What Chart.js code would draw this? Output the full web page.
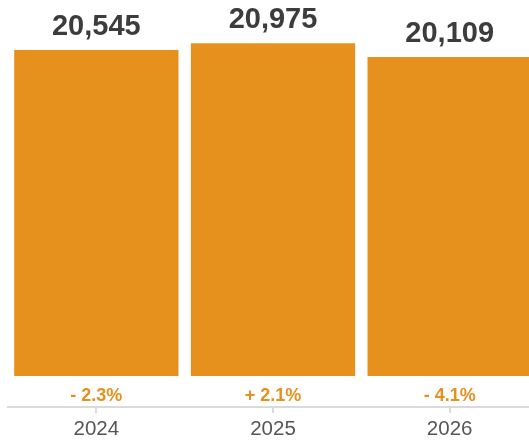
<!DOCTYPE html>
<html lang="en">
<head>
    <meta charset="utf-8">
    <script src="https://cdn.jsdelivr.net/npm/chart.js@4.4.0/dist/chart.umd.min.js"></script>
    <style>
        html, body { margin: 0; padding: 0; overflow: hidden; background: #fff; }
        .wrap { width: 538px; height: 442px; }
    </style>
</head>
<body>
<div class="wrap">
    <canvas id="myChart" width="538" height="442"></canvas>
</div>
<script>
    // data
    const years = ['2024', '2025', '2026'];
    const values = [20545, 20975, 20109];
    const changes = ['- 2.3%', '+ 2.1%', '- 4.1%'];

    const FONT = '"Liberation Sans", Arial, Helvetica, sans-serif';
    const ORANGE = '#e6901e';

    // value above each bar
    const valueLabels = {
        id: 'valueLabels',
        afterDatasetsDraw(chart) {
            const ctx = chart.ctx;
            const meta = chart.getDatasetMeta(0);
            ctx.save();
            ctx.font = 'bold 29px ' + FONT;
            ctx.fillStyle = '#3c3c3c';
            ctx.textAlign = 'center';
            ctx.textBaseline = 'alphabetic';
            meta.data.forEach(function (bar, i) {
                ctx.fillText(values[i].toLocaleString('en-US'), bar.x, bar.y - 15);
            });
            ctx.restore();
        }
    };

    const ctx = document.getElementById('myChart').getContext('2d');
    const myChart = new Chart(ctx, {
        type: 'bar',
        data: {
            labels: years,
            datasets: [{
                data: values,
                backgroundColor: ORANGE,
                borderWidth: 0,
                barPercentage: 0.93,
                categoryPercentage: 1
            }]
        },
        options: {
            responsive: false,
            animation: false,
            layout: { padding: { left: 8, right: 0, top: 0, bottom: 0 } },
            plugins: {
                legend: { display: false },
                tooltip: { enabled: false }
            },
            scales: {
                y: {
                    display: false,
                    min: 0,
                    max: 23700
                },
                x: {
                    position: 'bottom',
                    grid: { display: false, drawTicks: false },
                    border: { display: false },
                    ticks: {
                        padding: 9,
                        color: ORANGE,
                        font: { family: FONT, size: 18, weight: 'bold' },
                        callback: function (v, i) { return changes[i]; }
                    },
                    afterFit: function (s) { s.height = 31; }
                },
                x2: {
                    type: 'category',
                    position: 'bottom',
                    labels: years,
                    offset: true,
                    border: { display: true, color: '#dadada', width: 2 },
                    grid: {
                        display: true,
                        offset: false,
                        drawOnChartArea: false,
                        drawTicks: true,
                        tickLength: 6,
                        color: '#dadada',
                        lineWidth: 2
                    },
                    ticks: {
                        padding: 4,
                        color: '#555',
                        font: { family: FONT, size: 20.5 }
                    },
                    afterFit: function (s) { s.height = 35; }
                }
            }
        },
        plugins: [valueLabels]
    });
</script>
</body>
</html>
